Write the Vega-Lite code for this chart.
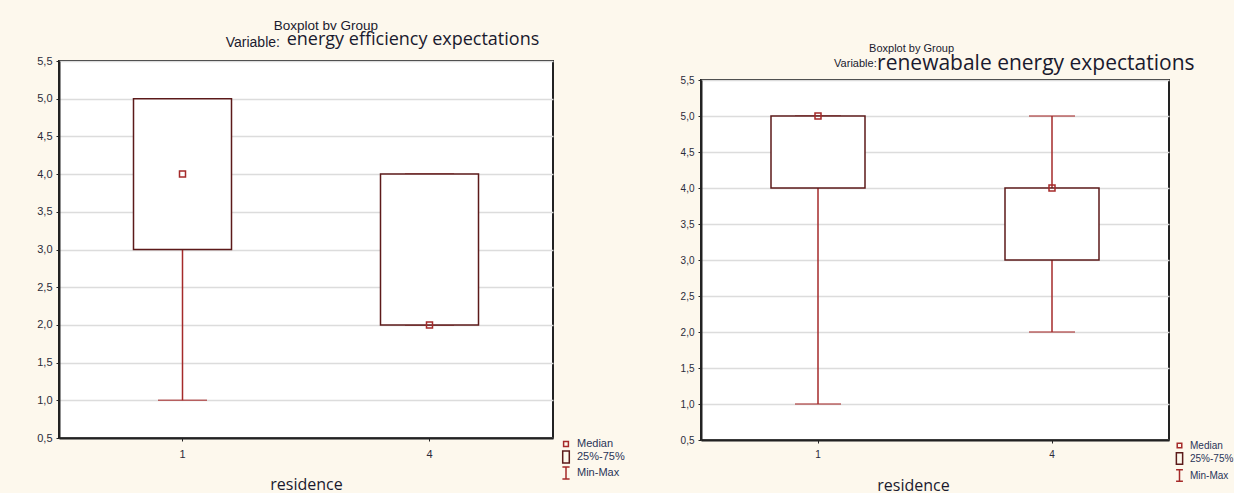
{
  "$schema": "https://vega.github.io/schema/vega-lite/v6.json",
  "background": "#fdf8ed",
  "padding": {"left": 35, "top": 18, "right": 0, "bottom": 0},
  "spacing": 54,
  "config": {
    "view": {"fill": "white", "stroke": "#222222", "strokeWidth": 2},
    "axis": {
      "labelFont": "Liberation Sans",
      "labelColor": "#2b2b3a",
      "domainColor": "#222222",
      "domainWidth": 2,
      "tickColor": "#222222",
      "tickSize": 3,
      "gridColor": "#dcdcdc",
      "gridWidth": 1.5,
      "labelOverlap": false
    },
    "legend": {
      "labelFont": "Liberation Sans",
      "labelColor": "#2a3558",
      "symbolStrokeWidth": 1.5,
      "padding": 0
    }
  },
  "datasets": {
    "left": [
      {"residence": "1", "min": 1, "q1": 3, "median": 4, "q3": 5, "max": 5},
      {"residence": "4", "min": 2, "q1": 2, "median": 2, "q3": 4, "max": 4}
    ],
    "right": [
      {"residence": "1", "min": 1, "q1": 4, "median": 5, "q3": 5, "max": 5},
      {"residence": "4", "min": 2, "q1": 3, "median": 4, "q3": 4, "max": 5}
    ]
  },
  "hconcat": [
    {
      "title": {"text": "Boxplot bv Group", "font": "Liberation Sans", "fontSize": 13.5, "fontWeight": "normal", "color": "#1a1a2e", "anchor": "start", "frame": "bounds", "dx": 238, "baseline": "bottom", "offset": -16},
      "vconcat": [
        {
          "title": {"text": "Variable:", "font": "Liberation Sans", "fontSize": 14, "fontWeight": "normal", "color": "#1a1a2e", "anchor": "start", "frame": "bounds", "dx": 190, "baseline": "alphabetic", "offset": -31},
          "vconcat": [
            {
              "width": 494,
              "height": 377,
              "title": {"text": "energy efficiency expectations", "font": "Open Sans", "fontSize": 18, "fontWeight": "normal", "color": "#1a1a2e", "anchor": "start", "frame": "bounds", "dx": 250, "baseline": "alphabetic", "offset": -8},
              "data": {"name": "left"},
              "encoding": {
                "x": {
                  "field": "residence", "type": "nominal",
                  "scale": {"paddingInner": 0, "paddingOuter": 0},
                  "axis": {"labelAngle": 0, "labelFontSize": 11, "labelPadding": 7, "title": "residence", "titleFont": "Open Sans", "titleFontSize": 16, "titleFontWeight": "normal", "titleColor": "#1a1a2e", "titlePadding": 17}
                }
              },
              "layer": [
                {
                  "mark": {"type": "rule", "color": "#a52a2a", "strokeWidth": 1.5},
                  "encoding": {
                    "y": {"field": "min", "type": "quantitative", "title": null,
                      "scale": {"domain": [0.5, 5.5], "nice": false, "zero": false},
                      "axis": {"values": [0.5, 1, 1.5, 2, 2.5, 3, 3.5, 4, 4.5, 5, 5.5], "tickCount": 11, "labelExpr": "replace(format(datum.value, '.1f'), '.', ',')", "labelFontSize": 11, "labelPadding": 4, "grid": true, "title": null}},
                    "y2": {"field": "max"}
                  }
                },
                {
                  "mark": {"type": "tick", "color": "#a52a2a", "thickness": 1.5, "size": 49},
                  "encoding": {"y": {"field": "min", "type": "quantitative", "title": null,
                      "axis": {"values": [0.5, 1, 1.5, 2, 2.5, 3, 3.5, 4, 4.5, 5, 5.5], "tickCount": 11, "labelExpr": "replace(format(datum.value, '.1f'), '.', ',')", "labelFontSize": 11, "labelPadding": 4, "grid": true, "title": null}}}
                },
                {
                  "mark": {"type": "tick", "color": "#a52a2a", "thickness": 1.5, "size": 49},
                  "encoding": {"y": {"field": "max", "type": "quantitative", "title": null,
                      "axis": {"values": [0.5, 1, 1.5, 2, 2.5, 3, 3.5, 4, 4.5, 5, 5.5], "tickCount": 11, "labelExpr": "replace(format(datum.value, '.1f'), '.', ',')", "labelFontSize": 11, "labelPadding": 4, "grid": true, "title": null}}}
                },
                {
                  "mark": {"type": "bar", "fill": "white", "stroke": "#5c1a1a", "strokeWidth": 1.5, "size": 98},
                  "encoding": {
                    "y": {"field": "q1", "type": "quantitative", "title": null,
                      "axis": {"values": [0.5, 1, 1.5, 2, 2.5, 3, 3.5, 4, 4.5, 5, 5.5], "tickCount": 11, "labelExpr": "replace(format(datum.value, '.1f'), '.', ',')", "labelFontSize": 11, "labelPadding": 4, "grid": true, "title": null}},
                    "y2": {"field": "q3"}
                  }
                },
                {
                  "mark": {"type": "point", "filled": false, "size": 225, "strokeWidth": 1.5, "opacity": 1},
                  "encoding": {
                    "y": {"field": "median", "type": "quantitative", "title": null,
                      "axis": {"values": [0.5, 1, 1.5, 2, 2.5, 3, 3.5, 4, 4.5, 5, 5.5], "tickCount": 11, "labelExpr": "replace(format(datum.value, '.1f'), '.', ',')", "labelFontSize": 11, "labelPadding": 4, "grid": true, "title": null}},
                    "color": {"datum": "Median", "type": "nominal",
                      "scale": {"domain": ["Median", "25%-75%", "Min-Max"], "range": ["#a52a2a", "#5c1a1a", "#a52a2a"]},
                      "legend": {"title": null, "orient": "none", "legendX": 500, "legendY": 376, "labelFontSize": 11, "symbolSize": 144, "rowPadding": -2}},
                    "shape": {"datum": "Median", "type": "nominal",
                      "scale": {"domain": ["Median", "25%-75%", "Min-Max"], "range": ["M-0.4,-0.4H0.4V0.4H-0.4Z", "M-0.55,-1H0.55V1H-0.55Z", "M-0.6,-1H0.6M0,-1V1M-0.6,1H0.6"]},
                      "legend": {"title": null, "orient": "none", "legendX": 500, "legendY": 376, "labelFontSize": 11, "symbolSize": 144, "rowPadding": -2}}
                  }
                }
              ]
            }
          ]
        }
      ]
    },
    {
      "spacing": -19,
      "vconcat": [
        {
          "width": 468,
          "height": 1,
          "data": {"values": []},
          "mark": {"type": "rule"},
          "encoding": {},
          "view": {"stroke": null, "fill": null}
        },
        {
          "title": {"text": "Boxplot by Group", "font": "Liberation Sans", "fontSize": 11, "fontWeight": "normal", "color": "#1a1a2e", "anchor": "start", "frame": "bounds", "dx": 190, "baseline": "bottom", "offset": -13},
          "vconcat": [
            {
              "title": {"text": "Variable:", "font": "Liberation Sans", "fontSize": 11, "fontWeight": "normal", "color": "#1a1a2e", "anchor": "start", "frame": "bounds", "dx": 155, "baseline": "alphabetic", "offset": -26},
              "vconcat": [
                {
                  "width": 468,
                  "height": 360,
                  "title": {"text": "renewabale energy expectations", "font": "Open Sans", "fontSize": 21, "fontWeight": "normal", "color": "#1a1a2e", "anchor": "start", "frame": "bounds", "dx": 197, "baseline": "alphabetic", "offset": -16},
                  "data": {"name": "right"},
                  "encoding": {
                    "x": {
                      "field": "residence", "type": "nominal",
                      "scale": {"paddingInner": 0, "paddingOuter": 0},
                      "axis": {"labelAngle": 0, "labelFontSize": 10, "labelPadding": 6, "title": "residence", "titleFont": "Open Sans", "titleFontSize": 16, "titleFontWeight": "normal", "titleColor": "#1a1a2e", "titlePadding": 18, "titleX": 212}
                    }
                  },
                  "layer": [
                    {
                      "mark": {"type": "rule", "color": "#a52a2a", "strokeWidth": 1.5},
                      "encoding": {
                        "y": {"field": "min", "type": "quantitative", "title": null,
                          "scale": {"domain": [0.5, 5.5], "nice": false, "zero": false},
                          "axis": {"values": [0.5, 1, 1.5, 2, 2.5, 3, 3.5, 4, 4.5, 5, 5.5], "tickCount": 11, "labelExpr": "replace(format(datum.value, '.1f'), '.', ',')", "labelFontSize": 10, "labelPadding": 4, "grid": true, "title": null}},
                        "y2": {"field": "max"}
                      }
                    },
                    {
                      "mark": {"type": "tick", "color": "#a52a2a", "thickness": 1.5, "size": 46},
                      "encoding": {"y": {"field": "min", "type": "quantitative", "title": null,
                          "axis": {"values": [0.5, 1, 1.5, 2, 2.5, 3, 3.5, 4, 4.5, 5, 5.5], "tickCount": 11, "labelExpr": "replace(format(datum.value, '.1f'), '.', ',')", "labelFontSize": 10, "labelPadding": 4, "grid": true, "title": null}}}
                    },
                    {
                      "mark": {"type": "tick", "color": "#a52a2a", "thickness": 1.5, "size": 46},
                      "encoding": {"y": {"field": "max", "type": "quantitative", "title": null,
                          "axis": {"values": [0.5, 1, 1.5, 2, 2.5, 3, 3.5, 4, 4.5, 5, 5.5], "tickCount": 11, "labelExpr": "replace(format(datum.value, '.1f'), '.', ',')", "labelFontSize": 10, "labelPadding": 4, "grid": true, "title": null}}}
                    },
                    {
                      "mark": {"type": "bar", "fill": "white", "stroke": "#5c1a1a", "strokeWidth": 1.5, "size": 94},
                      "encoding": {
                        "y": {"field": "q1", "type": "quantitative", "title": null,
                          "axis": {"values": [0.5, 1, 1.5, 2, 2.5, 3, 3.5, 4, 4.5, 5, 5.5], "tickCount": 11, "labelExpr": "replace(format(datum.value, '.1f'), '.', ',')", "labelFontSize": 10, "labelPadding": 4, "grid": true, "title": null}},
                        "y2": {"field": "q3"}
                      }
                    },
                    {
                      "mark": {"type": "point", "filled": false, "size": 225, "strokeWidth": 1.5, "opacity": 1},
                      "encoding": {
                        "y": {"field": "median", "type": "quantitative", "title": null,
                          "axis": {"values": [0.5, 1, 1.5, 2, 2.5, 3, 3.5, 4, 4.5, 5, 5.5], "tickCount": 11, "labelExpr": "replace(format(datum.value, '.1f'), '.', ',')", "labelFontSize": 10, "labelPadding": 4, "grid": true, "title": null}},
                        "color": {"datum": "Median", "type": "nominal",
                          "scale": {"domain": ["Median", "25%-75%", "Min-Max"], "range": ["#a52a2a", "#5c1a1a", "#a52a2a"]},
                          "legend": {"title": null, "orient": "none", "legendX": 472, "legendY": 378, "labelFontSize": 10, "symbolSize": 130, "rowPadding": -2}},
                        "shape": {"datum": "Median", "type": "nominal",
                          "scale": {"domain": ["Median", "25%-75%", "Min-Max"], "range": ["M-0.4,-0.4H0.4V0.4H-0.4Z", "M-0.55,-1H0.55V1H-0.55Z", "M-0.6,-1H0.6M0,-1V1M-0.6,1H0.6"]},
                          "legend": {"title": null, "orient": "none", "legendX": 472, "legendY": 378, "labelFontSize": 10, "symbolSize": 130, "rowPadding": -2}}
                      }
                    }
                  ]
                }
              ]
            }
          ]
        }
      ]
    }
  ],
  "resolve": {"scale": {"color": "independent", "shape": "independent", "y": "independent", "x": "independent"}, "legend": {"color": "independent", "shape": "independent"}}
}
